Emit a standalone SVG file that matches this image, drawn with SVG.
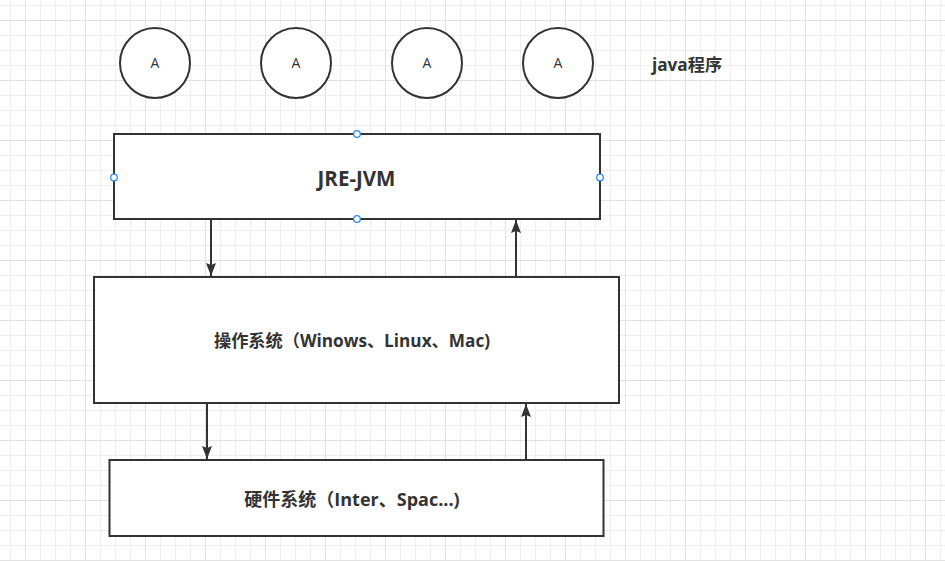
<svg xmlns="http://www.w3.org/2000/svg" width="945" height="561" viewBox="0 0 945 561">
<defs>
<pattern id="minor" x="10" y="5" width="15" height="15" patternUnits="userSpaceOnUse">
<rect x="0" y="0" width="1" height="15" fill="#efefef"/>
<rect x="0" y="0" width="15" height="1" fill="#efefef"/>
</pattern>
<pattern id="major" x="25" y="20" width="60" height="60" patternUnits="userSpaceOnUse">
<rect x="0" y="0" width="1" height="60" fill="#e2e2e2"/>
<rect x="0" y="0" width="60" height="1" fill="#e2e2e2"/>
</pattern>
<marker id="arrow" viewBox="0 0 13 10" refX="13" refY="5" markerWidth="13" markerHeight="10" markerUnits="userSpaceOnUse" orient="auto">
<path d="M0 0 L13 5 L0 10 L2 5 Z" fill="#333333"/>
</marker>
<style>
.box{fill:#ffffff;stroke:#333333;stroke-width:2}
.circ{fill:#ffffff;stroke:#333333;stroke-width:2}
.lbl{font-family:"Open Sans","Noto Sans CJK SC",sans-serif;font-weight:bold;fill:#333333;text-anchor:middle}
.a{font-family:"Open Sans","Liberation Sans",sans-serif;font-size:14px;fill:#333333;text-anchor:middle}
.handle{fill:#ffffff;stroke:#2f8bf0;stroke-width:1.3}
.edge{stroke:#333333;stroke-width:2;fill:none}
</style>
</defs>
<rect width="945" height="561" fill="#ffffff"/>
<rect width="945" height="561" fill="url(#minor)"/>
<rect width="945" height="561" fill="url(#major)"/>

<g id="prog1"><circle class="circ" cx="155" cy="63" r="35"/><text class="a" x="155" y="68">A</text></g>
<g id="prog2"><circle class="circ" cx="296" cy="63" r="35"/><text class="a" x="296" y="68">A</text></g>
<g id="prog3"><circle class="circ" cx="427" cy="63" r="35"/><text class="a" x="427" y="68">A</text></g>
<g id="prog4"><circle class="circ" cx="558" cy="63" r="35"/><text class="a" x="558" y="68">A</text></g>
<g id="java-label"><text class="lbl" x="687" y="71" font-size="17.2">java程序</text></g>

<g id="jre">
<rect class="box" x="114" y="134" width="486" height="85"/>
<text class="lbl" x="356.5" y="185.5" font-size="20.5">JRE-JVM</text>
<circle class="handle" cx="357" cy="134" r="3.3"/>
<circle class="handle" cx="114" cy="177.5" r="3.3"/>
<circle class="handle" cx="600" cy="177.5" r="3.3"/>
<circle class="handle" cx="357" cy="219" r="3.3"/>
</g>

<g id="os">
<rect class="box" x="94" y="277" width="525" height="126"/>
<text class="lbl" x="352" y="346.5" font-size="17.2">操作系统（Winows、Linux、Mac)</text>
</g>

<g id="hw">
<rect class="box" x="109.5" y="460" width="494" height="76"/>
<text class="lbl" x="352" y="506" font-size="18">硬件系统（Inter、Spac...)</text>
</g>

<g id="connectors">
<line class="edge" x1="211" y1="220" x2="211" y2="276" marker-end="url(#arrow)"/>
<line class="edge" x1="516" y1="276" x2="516" y2="220" marker-end="url(#arrow)"/>
<line class="edge" x1="207" y1="404" x2="207" y2="459" marker-end="url(#arrow)"/>
<line class="edge" x1="526" y1="459" x2="526" y2="404" marker-end="url(#arrow)"/>
</g>
</svg>
